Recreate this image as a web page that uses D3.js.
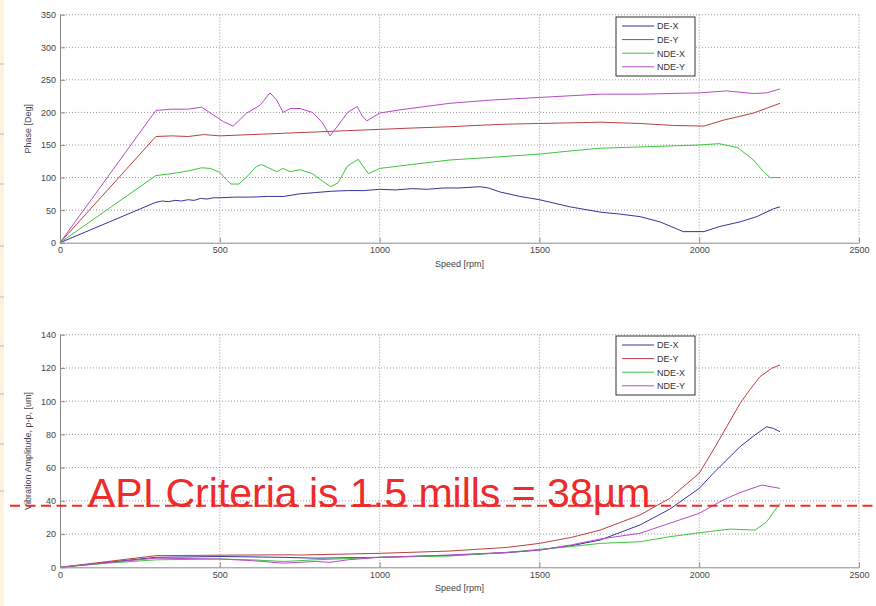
<!DOCTYPE html>
<html>
<head>
<meta charset="utf-8">
<script src="https://cdn.jsdelivr.net/npm/d3@7"></script>
<style>
  body { margin: 0; background: #fff; }
  svg { display: block; font-family: "Liberation Sans", Arial, sans-serif; }
  .tick text { fill: #444; font-size: 9px; }
  .domain { stroke: #8a8a8a; }
  .tick line { stroke: #8a8a8a; }
</style>
</head>
<body>
<div id="chart"></div>
<script>
var svgWidth = 876;
var svgHeight = 606;

// series names and colours
var seriesNames = ["DE-X", "DE-Y", "NDE-X", "NDE-Y"];
var seriesColors = ["#34349a", "#b8403f", "#3ec43e", "#b84ac8"];

// phase plot, [rpm, deg]
var phaseDEX = [[0,0],[300,62],[320,64],[340,63],[360,65],[380,64],[400,66],[420,65],[440,68],[460,67],[480,69],[500,69],
  [550,70],[600,70],[650,71],[700,71],[750,75],[800,77],[850,79],[900,80],[950,80],[1000,82],[1050,81],[1100,83],[1150,82],
  [1200,84],[1250,84],[1314,86],[1340,84],[1376,78],[1439,71],[1500,66],[1596,55],[1690,47],[1750,44],[1815,40],[1877,32],
  [1950,17],[2015,17],[2065,25],[2128,32],[2180,40],[2232,52],[2253,55]];
var phaseDEY = [[0,0],[300,163],[350,164],[400,163],[450,166],[500,164],[550,165],[600,166],[700,168],[751,169],[800,170],
  [900,172],[1000,174],[1100,176],[1220,178],[1300,180],[1400,182],[1500,183],[1600,184],[1690,185],[1815,183],[1919,180],
  [2015,179],[2075,188],[2170,199],[2253,214]];
var phaseNDEX = [[0,0],[300,103],[350,106],[400,110],[443,115],[470,114],[500,108],[522,96],[535,90],[560,90],[584,101],
  [615,117],[631,120],[678,109],[698,114],[720,109],[751,112],[790,106],[820,95],[847,86],[870,92],[900,118],[933,128],
  [965,106],[1000,114],[1100,120],[1220,127],[1350,131],[1500,136],[1600,141],[1690,145],[1815,147],[2000,150],[2062,152],
  [2120,146],[2170,127],[2201,109],[2222,100],[2253,100]];
var phaseNDEY = [[0,0],[300,203],[350,205],[400,205],[443,208],[480,196],[511,186],[542,179],[584,199],[626,211],[657,230],
  [678,219],[698,200],[720,206],[751,206],[790,200],[820,185],[845,164],[870,180],[900,200],[930,209],[945,195],[960,187],
  [1000,199],[1064,204],[1220,214],[1350,219],[1500,223],[1690,228],[1815,228],[2000,230],[2086,233],[2170,229],[2211,230],
  [2253,236]];

// amplitude plot, [rpm, um]
var ampDEX = [[0,0],[150,3],[300,6],[500,6.5],[700,6],[800,5.5],[1000,6],[1220,7.2],[1400,8.8],[1500,10.4],[1600,13],
  [1690,16.4],[1815,25.5],[1908,35],[2000,47.5],[2044,56.6],[2086,64.6],[2128,72.6],[2170,79],[2211,84.6],[2232,83.6],[2253,81.6]];
var ampDEY = [[0,0],[150,3.5],[300,7],[500,7.3],[700,7.5],[751,7.4],[1000,8.4],[1220,9.8],[1400,12],[1500,14.4],[1600,18],
  [1690,22.4],[1815,31.5],[1908,41.5],[2000,56.6],[2044,70.6],[2086,84.6],[2128,98.7],[2159,107],[2190,114.7],[2227,119.8],[2253,121.8]];
var ampNDEX = [[0,0],[150,2.5],[300,4.5],[500,5],[600,4.5],[700,3.5],[800,4.5],[1000,6],[1220,6.8],[1400,9],[1500,10.8],
  [1600,12.5],[1690,14.4],[1815,15.4],[1908,18.4],[2000,20.8],[2097,23],[2175,22.4],[2211,27.4],[2253,38.5]];
var ampNDEY = [[0,0],[150,2.8],[300,5.5],[500,5],[600,4],[700,2.5],[800,3.5],[845,3],[900,4.5],[1000,6],[1220,7.4],[1400,9],
  [1500,10.4],[1600,13.5],[1690,17],[1815,20.5],[1908,26.5],[2000,32.5],[2075,40.5],[2128,45],[2196,49.5],[2253,47.5]];

var xTicks = [0, 500, 1000, 1500, 2000, 2500];
var phaseTicks = [0, 50, 100, 150, 200, 250, 300, 350];
var ampTicks = [0, 20, 40, 60, 80, 100, 120, 140];
var apiLimit = 38;
var apiText = "API Criteria is 1.5 mills = 38\u00b5m";

var svg = d3.select("#chart").append("svg")
  .attr("width", svgWidth)
  .attr("height", svgHeight);

svg.append("rect").attr("width", svgWidth).attr("height", svgHeight).attr("fill", "#fff");

// slide edge on the left
svg.append("rect").attr("x", 0).attr("y", 0).attr("width", 4).attr("height", svgHeight).attr("fill", "#fcf3dc");
[63, 133, 183, 245, 296, 345, 393, 443, 490].forEach(function (y) {
  svg.append("rect").attr("x", 0).attr("y", y).attr("width", 4).attr("height", 2).attr("fill", "#d8d8d8");
});

var xScale = d3.scaleLinear().domain([0, 2500]).range([60, 859]);
var fmt = d3.format("d");

function drawPlot(top, bottom, yMax, yTicks, series, yLabel, legendTop) {
  var yScale = d3.scaleLinear().domain([0, yMax]).range([bottom, top]);
  var g = svg.append("g");

  // dotted grid
  g.selectAll(".hgrid").data(yTicks.filter(d => d > 0)).enter().append("line")
    .attr("x1", 60).attr("x2", 859)
    .attr("y1", d => yScale(d)).attr("y2", d => yScale(d))
    .attr("stroke", "#9a9a9a").attr("stroke-dasharray", "1,2");
  g.selectAll(".vgrid").data(xTicks.filter(d => d > 0)).enter().append("line")
    .attr("x1", d => xScale(d)).attr("x2", d => xScale(d))
    .attr("y1", top).attr("y2", bottom)
    .attr("stroke", "#9a9a9a").attr("stroke-dasharray", "1,2");

  var line = d3.line().x(d => xScale(d[0])).y(d => yScale(d[1]));
  series.forEach(function (s, i) {
    g.append("path").datum(s)
      .attr("d", line)
      .attr("fill", "none")
      .attr("stroke", seriesColors[i])
      .attr("stroke-width", 1);
  });

  g.append("g")
    .attr("transform", `translate(0, ${bottom})`)
    .call(d3.axisBottom(xScale).tickValues(xTicks).tickFormat(fmt).tickSize(-5).tickSizeOuter(0).tickPadding(4));
  g.append("g")
    .attr("transform", "translate(60, 0)")
    .call(d3.axisLeft(yScale).tickValues(yTicks).tickFormat(fmt).tickSize(-5).tickSizeOuter(0).tickPadding(4));

  g.append("text")
    .attr("x", xScale(1250)).attr("y", bottom + 24)
    .attr("text-anchor", "middle").attr("font-size", 9).attr("fill", "#444")
    .text("Speed [rpm]");
  g.append("text")
    .attr("transform", `translate(31, ${(top + bottom) / 2}) rotate(-90)`)
    .attr("text-anchor", "middle").attr("font-size", 9).attr("fill", "#444")
    .text(yLabel);

  // legend
  var lg = g.append("g").attr("transform", `translate(616, ${legendTop})`);
  lg.append("rect").attr("width", 79).attr("height", 59)
    .attr("fill", "#fff").attr("stroke", "#333");
  seriesNames.forEach(function (name, i) {
    var y = 9 + i * 13.6;
    lg.append("line").attr("x1", 6).attr("x2", 38).attr("y1", y).attr("y2", y)
      .attr("stroke", seriesColors[i]);
    lg.append("text").attr("x", 41).attr("y", y + 3.3)
      .attr("font-size", 9).attr("fill", "#333").text(name);
  });
  return yScale;
}

drawPlot(14.7, 242.7, 350, phaseTicks, [phaseDEX, phaseDEY, phaseNDEX, phaseNDEY], "Phase [Deg]", 17);
var ampY = drawPlot(334.7, 567.3, 140, ampTicks, [ampDEX, ampDEY, ampNDEX, ampNDEY], "Vibration Amplitude, p-p, [um]", 336);

// API limit annotation
svg.append("line")
  .attr("x1", 10).attr("x2", svgWidth)
  .attr("y1", ampY(apiLimit) + 1.5).attr("y2", ampY(apiLimit) + 1.5)
  .attr("stroke", "#ee2b2b").attr("stroke-width", 2).attr("stroke-dasharray", "10,5.5");
svg.append("text")
  .attr("x", 88).attr("y", 507)
  .attr("font-size", 41).attr("fill", "#ee2b2b")
  .text(apiText);
</script>
</body>
</html>
